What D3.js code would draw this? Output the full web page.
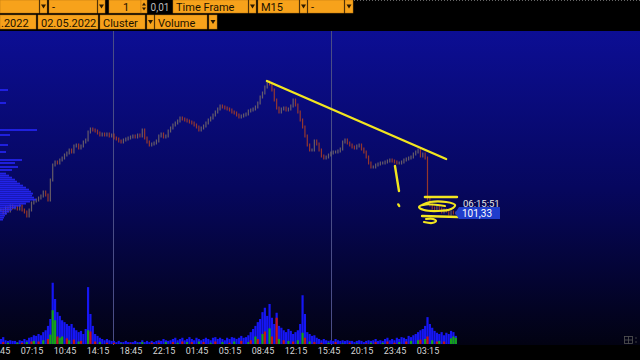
<!DOCTYPE html>
<html>
<head>
<meta charset="utf-8">
<script src="https://cdn.jsdelivr.net/npm/d3@7"></script>
<style>
  body { margin: 0; background: #000; overflow: hidden; }
  svg { display: block; font-family: Roboto, "Noto Sans", sans-serif; }
</style>
</head>
<body>
<svg id="chart" width="640" height="360"></svg>
<script>
// bar index of the first entry in closes / volumes / deltas
const firstIndex = -6;

// M15 closes, one per bar (index -6 .. 187)
const closes = [
  101.48, 101.33, 101.58, 101.43, 101.68, 101.58,
  101.63, 101.53, 101.68, 101.48, 101.38, 101.18, 101.48, 101.83, 101.93, 101.98,
  102.08, 102.18, 102.38, 102.23, 101.98, 102.98, 103.73, 103.88, 103.83, 103.98,
  104.08, 104.23, 104.33, 104.48, 104.38, 104.68, 104.73, 104.58, 104.68, 104.88,
  104.98, 105.38, 105.53, 105.48, 105.43, 105.33, 105.23, 105.28, 105.23, 105.28,
  105.18, 105.23, 105.08, 105.03, 104.93, 104.88, 104.98, 105.03, 105.08, 105.13,
  105.18, 105.13, 105.23, 105.18, 105.48, 105.08, 104.88, 104.73, 104.78, 104.83,
  104.93, 105.18, 105.28, 105.13, 105.18, 105.43, 105.58, 105.73, 105.83, 105.93,
  106.08, 106.03, 105.98, 105.93, 105.88, 105.83, 105.73, 105.63, 105.48, 105.58,
  105.68, 105.83, 105.98, 106.08, 106.23, 106.38, 106.53, 106.68, 106.63, 106.58,
  106.53, 106.48, 106.38, 106.33, 106.23, 106.13, 106.18, 106.23, 106.28, 106.43,
  106.48, 106.53, 106.63, 106.83, 107.13, 107.33, 107.63, 107.88, 107.78, 107.48,
  106.98, 106.58, 106.38, 106.53, 106.58, 106.48, 106.53, 106.68, 106.98, 106.73,
  106.38, 105.98, 105.63, 105.18, 104.73, 104.48, 104.48, 104.93, 104.78, 104.48,
  104.18, 104.08, 104.13, 104.23, 104.33, 104.38, 104.38, 104.43, 104.53, 104.88,
  104.98, 104.83, 104.73, 104.63, 104.58, 104.68, 104.73, 104.53, 104.38, 104.13,
  103.83, 103.63, 103.63, 103.73, 103.78, 103.83, 103.83, 103.88, 103.93, 103.98,
  103.93, 103.88, 103.83, 103.83, 103.88, 103.98, 104.03, 104.08, 104.13, 104.28,
  104.38, 104.48, 104.18, 104.28, 104.08, 102.03, 101.73, 101.58, 101.48, 101.63,
  101.53, 101.38, 101.48, 101.43, 101.28, 101.38, 101.33, 101.33
];

// total volume per bar
const volumes = [
  80, 110, 60, 50, 60, 50,
  50, 30, 60, 50, 80, 60, 100, 110, 140, 130,
  160, 140, 190, 220, 290, 400, 980, 720, 510, 450,
  380, 350, 320, 290, 320, 260, 220, 190, 210, 160,
  240, 910, 480, 290, 160, 130, 100, 80, 60, 80,
  60, 50, 50, 30, 50, 30, 30, 50, 30, 30,
  30, 50, 30, 30, 60, 30, 50, 30, 50, 30,
  50, 60, 50, 80, 60, 50, 60, 80, 100, 60,
  80, 100, 60, 80, 110, 80, 60, 100, 80, 60,
  80, 100, 80, 60, 100, 110, 80, 100, 80, 60,
  100, 80, 110, 100, 80, 100, 130, 100, 110, 140,
  190, 240, 290, 350, 400, 510, 580, 450, 640, 420,
  320, 500, 290, 260, 220, 190, 240, 210, 160, 190,
  220, 320, 780, 480, 190, 160, 130, 140, 100, 80,
  60, 80, 60, 50, 60, 50, 80, 60, 50, 60,
  50, 60, 50, 50, 30, 50, 60, 50, 30, 50,
  60, 50, 60, 80, 50, 60, 50, 80, 100, 60,
  80, 60, 100, 80, 110, 100, 80, 130, 110, 140,
  160, 190, 220, 240, 290, 430, 320, 260, 210, 180,
  160, 190, 140, 180, 160, 210, 190, 130
];

// buy (+) / sell (-) part of each bar's volume
const deltas = [
  0, -30, 0, 20, 0, 0,
  0, 20, 0, -20, 0, 30, 0, -40, 50, 0,
  -40, 0, 60, 0, -80, 150, 540, 380, -120, 100,
  120, 0, -90, 60, 0, -70, 0, 40, -50, 0,
  0, 220, -200, 0, -40, 0, 30, 0, 0, -20,
  0, 0, -20, 0, 0, 10, 0, 0, 0, -10,
  0, 0, 10, 0, 30, 0, 0, 0, -20, 0,
  0, -20, 0, 0, 30, 0, 0, -30, 0, 20,
  0, -40, 0, 30, 0, -30, 0, 0, 40, 0,
  -30, 0, 0, 20, 0, -40, 0, 0, 30, 0,
  0, -20, 0, 40, 0, 0, -50, 0, 0, 30,
  -60, 0, 120, -80, 0, 160, -200, 0, 250, -120,
  0, -420, 80, 0, -60, 0, 50, 0, -40, 0,
  60, 0, 180, -100, 0, 40, 0, -30, 0, 0,
  -20, 0, 0, 20, 0, 0, -30, 0, 0, 10,
  0, 0, -20, 0, 0, 10, 0, 0, 0, -10,
  0, 20, 0, -30, 0, 0, 20, 0, -40, 0,
  0, -20, 0, 30, 0, 0, -40, 0, 50, 0,
  0, 60, -70, 0, 80, -120, 0, 60, 0, -40,
  50, 0, -40, 0, 0, 90, 120, 100
];

const tickIndex = [-7, 7, 21, 35, 49, 63, 77, 91, 105, 119, 133, 147, 161, 175];
const tickLabels = ["03:45", "07:15", "10:45", "14:15", "18:45", "22:15", "01:45",
  "05:15", "08:45", "12:15", "15:45", "20:15", "23:45", "03:15"];

const sessionBreaks = [41.5, 134];

// volume profile (price level -> volume)
const profilePrice = [107.48, 106.83, 105.48, 105.23, 104.73, 104.38, 103.98, 103.83, 103.63, 103.48,
  103.3, 103.2, 103.1, 103.0, 102.9, 102.8, 102.7, 102.6, 102.5, 102.4, 102.3, 102.2,
  102.1, 102.0, 101.9, 101.8, 101.7, 101.6, 101.5, 101.4, 101.3, 101.2, 101.1, 101.0];
const profileVol = [8, 6, 37, 10, 8, 6, 22, 15, 18, 12,
  6, 9, 12, 15, 17, 20, 23, 26, 29, 31, 33, 32,
  34, 36, 30, 26, 21, 16, 12, 9, 7, 5, 4, 3];

const lastTime = "06:15:51";

// hand drawn marks, [bar index, price]
const trendLine = [[106.9, 107.93], [182.9, 104.03]];
const tick1 = [[161.2, 103.68], [162.9, 102.43]];
const dot1 = [[162.6, 101.76], [163.0, 101.68]];
const scribbleTop = [[173.9, 102.13], [187.5, 102.13]];
const scribbleLoop = [[172.7, 101.73], [176.1, 101.88], [182.9, 101.88], [186.7, 101.73],
  [185.0, 101.53], [179.5, 101.43], [173.5, 101.48], [171.4, 101.63], [174.4, 101.76], [182.4, 101.68]];
const scribbleLow = [[172.7, 101.18], [188.0, 101.13]];
const scribbleHook = [[174.4, 101.03], [177.4, 101.03], [178.6, 100.93], [176.9, 100.83], [173.5, 100.88]];

const svg = d3.select("#chart");
const orange = "#f7a21b";

// ---- toolbar
const row1 = [
  { x: 0, w: 39, t: "" }, { x: 40, w: 7, arrow: true },
  { x: 49, w: 48, t: "-" }, { x: 98, w: 7, arrow: true },
  { x: 109, w: 32, t: "1", mid: true }, { x: 141, w: 6, spin: true },
  { x: 173, w: 75, t: "Time Frame" }, { x: 249, w: 7, arrow: true },
  { x: 258, w: 41, t: "M15" }, { x: 300, w: 7, arrow: true },
  { x: 308, w: 36, t: "-" }, { x: 345, w: 8, arrow: true }
];
const row2 = [
  { x: 0, w: 36, t: ".2022", pad: 1 }, { x: 38, w: 60, t: "02.05.2022" },
  { x: 100, w: 45, t: "Cluster" }, { x: 147, w: 7, arrow: true },
  { x: 155, w: 52, t: "Volume" }, { x: 209, w: 8, arrow: true }
];

svg.append("rect").attr("width", 640).attr("height", 360).attr("fill", "#000");
svg.append("line").attr("x1", 354).attr("x2", 640).attr("y1", 0.5).attr("y2", 0.5)
  .attr("stroke", "#666").attr("stroke-dasharray", "1,2");

function drawRow(cells, y, h) {
  const g = svg.append("g").attr("transform", `translate(0,${y})`);
  cells.forEach(c => {
    g.append("rect").attr("x", c.x).attr("y", 0).attr("width", c.w).attr("height", h)
      .attr("fill", orange).attr("stroke", "#b87410").attr("stroke-width", 0.5);
    if (c.arrow) {
      const cx = c.x + c.w / 2, cy = h / 2;
      g.append("path").attr("d", `M${cx - 2.5},${cy - 2}L${cx + 2.5},${cy - 2}L${cx},${cy + 2}Z`)
        .attr("fill", "#2a1800");
    } else if (c.spin) {
      const cx = c.x + c.w / 2;
      g.append("path").attr("d", `M${cx - 2},${h / 2 - 1}L${cx + 2},${h / 2 - 1}L${cx},${h / 2 - 4}Z`).attr("fill", "#2a1800");
      g.append("path").attr("d", `M${cx - 2},${h / 2 + 1}L${cx + 2},${h / 2 + 1}L${cx},${h / 2 + 4}Z`).attr("fill", "#2a1800");
    } else if (c.t) {
      g.append("text").attr("x", c.mid ? c.x + 14 : c.x + (c.pad || 3)).attr("y", h - 2.5)
        .attr("font-size", 11).attr("fill", "#1c1200").text(c.t);
    }
  });
  return g;
}
const r1 = drawRow(row1, 0, 13);
r1.append("rect").attr("x", 148).attr("y", 0).attr("width", 24).attr("height", 13).attr("fill", "#000");
r1.append("text").attr("x", 160).attr("y", 10.5).attr("text-anchor", "middle")
  .attr("font-size", 10).attr("fill", "#bbb").text("0,01");
drawRow(row2, 15, 14);

// ---- chart area
const defs = svg.append("defs");
const grad = defs.append("linearGradient").attr("id", "bg")
  .attr("x1", 0).attr("y1", 0).attr("x2", 0).attr("y2", 1);
grad.append("stop").attr("offset", "0%").attr("stop-color", "#0c0e94");
grad.append("stop").attr("offset", "50%").attr("stop-color", "#06075e");
grad.append("stop").attr("offset", "100%").attr("stop-color", "#020212");
svg.append("rect").attr("x", 0).attr("y", 31).attr("width", 640).attr("height", 314).attr("fill", "url(#bg)");
defs.append("clipPath").attr("id", "plot").append("rect")
  .attr("x", 0).attr("y", 31).attr("width", 640).attr("height", 314);

const x = d3.scaleLinear().domain([0, 175]).range([15, 427.5]);
const y = d3.scaleLinear().domain([100, 108]).range([239.6, 79.6]);
const vy = d3.scaleLinear().domain([0, 1000]).range([344, 281.5]);
const px = d3.scaleLinear().domain([0, 40]).range([0, 40]);

const plot = svg.append("g").attr("clip-path", "url(#plot)");

plot.selectAll(".sep").data(sessionBreaks).enter().append("line")
  .attr("x1", d => Math.round(x(d)) + 0.5).attr("x2", d => Math.round(x(d)) + 0.5)
  .attr("y1", 31).attr("y2", 345).attr("stroke", "#4a4d86").attr("stroke-width", 1);

// volume bars
const bars = volumes.map((v, i) => ({ i: i + firstIndex, v, d: deltas[i] }));
plot.selectAll(".vol").data(bars).enter().append("rect")
  .attr("x", d => x(d.i) - 1.1).attr("width", 2.2)
  .attr("y", d => vy(d.v)).attr("height", d => vy(0) - vy(d.v))
  .attr("fill", "#1616f4");
plot.selectAll(".dlt").data(bars.filter(d => d.d !== 0)).enter().append("rect")
  .attr("x", d => x(d.i) - 1.1).attr("width", 2.2)
  .attr("y", d => vy(Math.abs(d.d))).attr("height", d => vy(0) - vy(Math.abs(d.d)))
  .attr("fill", d => d.d > 0 ? "#16a316" : "#c81414");

// candles
const candles = closes.map((c, i) => ({ i: i + firstIndex, o: i ? closes[i - 1] : c, c }));
plot.selectAll(".cdl").data(candles).enter().append("rect")
  .attr("x", d => x(d.i) - 0.6).attr("width", 1.2)
  .attr("y", d => y(Math.max(d.o, d.c)) - 1.5)
  .attr("height", d => Math.abs(y(d.o) - y(d.c)) + 3)
  .attr("fill", d => d.c >= d.o ? "#7e7068" : "#b8421e")
  .attr("opacity", 0.8);

// volume profile, drawn over the first candles
plot.selectAll(".prof").data(profilePrice).enter().append("rect")
  .attr("x", 0).attr("y", d => y(d) - 0.9)
  .attr("width", (d, i) => px(profileVol[i])).attr("height", 1.8)
  .attr("fill", "#2828ff").attr("opacity", 0.85);

// hand drawn marks
const pen = d3.line().x(d => x(d[0])).y(d => y(d[1]));
const penCurve = d3.line().x(d => x(d[0])).y(d => y(d[1])).curve(d3.curveCatmullRom);
[trendLine, tick1, dot1, scribbleTop, scribbleLow].forEach(p => {
  plot.append("path").attr("d", pen(p)).attr("fill", "none")
    .attr("stroke", "#f2e51f").attr("stroke-width", 2.4).attr("stroke-linecap", "round");
});
[scribbleLoop, scribbleHook].forEach(p => {
  plot.append("path").attr("d", penCurve(p)).attr("fill", "none")
    .attr("stroke", "#f2e51f").attr("stroke-width", 2.2).attr("stroke-linecap", "round");
});

// current price and time
const last = closes[closes.length - 1];
const ly = y(last);
svg.append("text").attr("x", 463).attr("y", ly - 6).attr("font-size", 9.5)
  .attr("fill", "#e8e8e8").text(lastTime);
svg.append("path")
  .attr("d", `M455,${ly}L459,${ly - 6}L500,${ly - 6}L500,${ly + 6}L459,${ly + 6}Z`)
  .attr("fill", "#1f3dcc");
svg.append("text").attr("x", 462).attr("y", ly + 4).attr("font-size", 10)
  .attr("fill", "#fff").text(d3.format(".2f")(last).replace(".", ","));

// ---- time axis
svg.append("rect").attr("x", 0).attr("y", 345).attr("width", 640).attr("height", 15).attr("fill", "#000");
const axis = svg.append("g").attr("transform", "translate(0,346)")
  .call(d3.axisBottom(x).tickValues(tickIndex).tickFormat((d, i) => tickLabels[i])
    .tickSize(0).tickPadding(2));
axis.select(".domain").remove();
axis.selectAll("text").attr("fill", "#d6d6d6").attr("font-size", 9)
  .attr("font-family", "Roboto, sans-serif");

// corner icon
const ic = svg.append("g").attr("stroke", "#555").attr("fill", "none").attr("stroke-width", 0.8);
ic.append("rect").attr("x", 624.5).attr("y", 336.5).attr("width", 8).attr("height", 7);
ic.append("line").attr("x1", 628.5).attr("x2", 628.5).attr("y1", 336.5).attr("y2", 343.5);
ic.append("line").attr("x1", 624.5).attr("x2", 632.5).attr("y1", 340).attr("y2", 340);
svg.append("circle").attr("cx", 636).attr("cy", 338).attr("r", 0.7).attr("fill", "#555");
svg.append("circle").attr("cx", 636).attr("cy", 342).attr("r", 0.7).attr("fill", "#555");
</script>
</body>
</html>
